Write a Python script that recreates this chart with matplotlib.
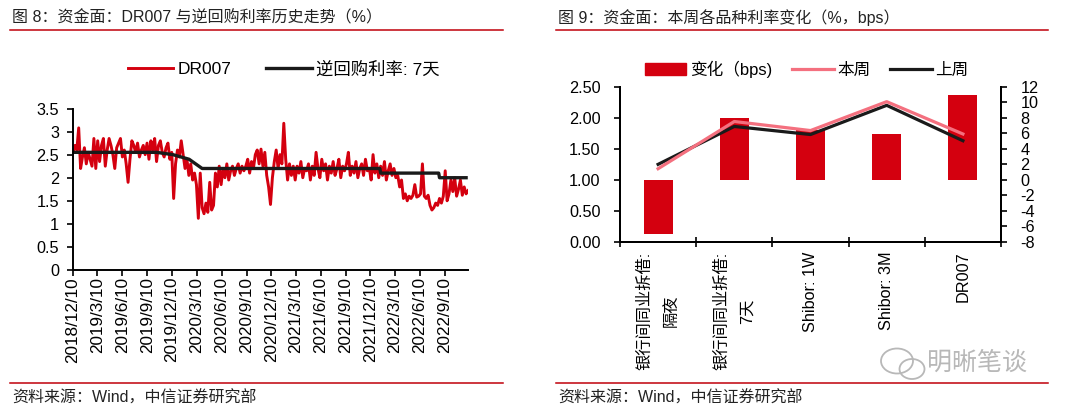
import matplotlib.pyplot as plt
from matplotlib.lines import Line2D
from matplotlib.patches import Patch, Ellipse
import pandas as pd

plt.rcParams['font.family'] = ['Liberation Sans', 'Noto Sans CJK SC']
plt.rcParams['axes.unicode_minus'] = False

# ---- 图8 data: DR007 weekly readings (%), from 2018-12-10 ----
dr007 = [
    2.55, 2.70, 2.60, 3.08, 2.20, 2.45, 2.65, 2.30, 2.55, 2.40, 2.25, 2.85, 2.20,
    2.80, 2.35, 2.70, 2.85, 2.25, 2.60, 2.85, 2.70, 2.50, 2.20, 2.65, 2.75, 2.85,
    2.45, 2.60, 2.30, 1.90, 2.40, 2.80, 2.70, 2.55, 2.75, 2.45, 2.60, 2.70, 2.50,
    2.75, 2.40, 2.80, 2.60, 2.85, 2.35, 2.70, 2.80, 2.55, 2.45, 2.65, 2.75, 2.40,
    2.55, 1.55, 2.30, 2.60, 2.45, 2.80, 2.50, 2.20, 2.40, 2.05, 2.30, 1.95, 2.10,
    1.85, 1.12, 2.10, 1.35, 1.22, 1.45, 1.25, 1.90, 1.30, 1.40, 2.10, 1.80, 2.25,
    1.85, 2.20, 2.00, 2.30, 1.95, 2.15, 2.25, 2.05, 2.20, 2.30, 2.10, 2.25, 2.15,
    2.25, 2.40, 2.10, 2.35, 2.20, 2.50, 2.60, 2.30, 2.62, 2.25, 2.55, 2.05, 1.80,
    1.42, 2.00, 2.35, 2.60, 2.20, 2.50, 2.30, 3.18, 2.40, 1.95, 2.30, 2.05, 2.25,
    1.95, 2.25, 2.10, 2.35, 2.00, 2.20, 2.15, 2.30, 1.95, 2.25, 2.05, 2.55, 2.20,
    2.00, 2.40, 2.15, 2.30, 1.95, 2.25, 2.10, 2.35, 2.05, 2.20, 2.40, 2.00, 2.25,
    2.15, 2.30, 2.55, 2.05, 2.25, 2.10, 2.35, 2.00, 2.20, 2.30, 2.05, 2.40, 2.15,
    2.20, 1.95, 2.50, 2.10, 2.30, 2.00, 2.25, 2.05, 2.35, 1.95, 2.15, 2.30, 2.05,
    2.20, 2.00, 2.05, 1.80, 1.95, 1.55, 1.65, 1.50, 1.60, 1.55, 1.62, 1.85, 1.58,
    1.60, 1.65, 2.30, 1.60, 1.55, 1.62, 1.40, 1.30, 1.35, 1.45, 1.40, 1.55, 1.45,
    1.60, 2.15, 1.50, 1.65, 1.95, 1.70, 2.00, 1.60, 1.75, 1.95, 1.62, 1.80, 1.65, 1.72,
]
dr_dates = pd.date_range('2018-12-10', periods=len(dr007), freq='7D')

repo_dates = ['2018-12-10', '2019-10-14', '2019-12-13', '2020-02-11', '2020-03-30',
              '2022-01-14', '2022-01-17', '2022-08-19', '2022-08-22', '2022-11-28']
repo_vals = [2.55, 2.55, 2.50, 2.40, 2.20, 2.20, 2.10, 2.10, 2.00, 2.00]

date_labels = ['2018/12/10', '2019/3/10', '2019/6/10', '2019/9/10', '2019/12/10',
               '2020/3/10', '2020/6/10', '2020/9/10', '2020/12/10', '2021/3/10',
               '2021/6/10', '2021/9/10', '2021/12/10', '2022/3/10', '2022/6/10',
               '2022/9/10']

# ---- 图9 data ----
cats = ['银行间同业拆借:\n隔夜', '银行间同业拆借:\n7天', 'Shibor: 1W', 'Shibor: 3M', 'DR007']
this_week = [1.180, 1.940, 1.794, 2.259, 1.739]
last_week = [1.250, 1.860, 1.730, 2.200, 1.630]
change_bps = [-7.0, 8.0, 6.4, 5.9, 10.9]

RED = '#D4000F'
PINK = '#F4707F'
BLACK = '#1A1A1A'
W, H = 1080, 411

fig = plt.figure(figsize=(10.8, 4.11), dpi=100)


def fx(px):
    return px / W


def fy(py):
    return 1 - py / H


# titles, rules, footers
for x0, x1, title in [(10, 503, '图 8：资金面：DR007 与逆回购利率历史走势（%）'),
                      (556, 1048, '图 9：资金面：本周各品种利率变化（%，bps）')]:
    fig.text(fx(x0 + 2), fy(18), title, fontsize=11.5, color='#222222', va='center')
    fig.add_artist(Line2D([fx(x0), fx(x1)], [fy(30.5), fy(30.5)], color='#C0000A', lw=1.1))
    fig.add_artist(Line2D([fx(x0), fx(x1)], [fy(383), fy(383)], color='#C0000A', lw=1.1))
    fig.text(fx(x0 + 2), fy(398), '资料来源：Wind，中信证券研究部', fontsize=11.5,
             color='#222222', va='center')

# ---- left chart ----
ax = fig.add_axes([fx(73), fy(270), fx(395), 161.5 / H])
ax.plot(dr_dates, dr007, color=RED, lw=2.1, label='DR007')
ax.plot(pd.to_datetime(repo_dates), repo_vals, color=BLACK, lw=2.4, label='逆回购利率: 7天')
ax.set_ylim(0, 3.5)
ax.set_yticks([0, 0.5, 1, 1.5, 2, 2.5, 3, 3.5])
ax.set_yticklabels(['0', '0.5', '1', '1.5', '2', '2.5', '3', '3.5'])
ax.set_xlim(dr_dates[0], dr_dates[-1])
ax.set_xticks(pd.to_datetime(date_labels, format='%Y/%m/%d'))
ax.set_xticklabels(date_labels, rotation=90, fontsize=12.3)
ax.tick_params(axis='y', direction='out', length=4, width=1.2, labelsize=11.7, pad=6)
ax.tick_params(axis='x', direction='out', length=4, width=1.2, pad=1)
for s in ['top', 'right']:
    ax.spines[s].set_visible(False)
for s in ['left', 'bottom']:
    ax.spines[s].set_linewidth(1.4)
ax.legend(loc='center', bbox_to_anchor=(0.534, 1.244), ncol=2, frameon=False,
          fontsize=12.5, handlelength=2.6, handletextpad=0.25, columnspacing=2.0)

# ---- right chart ----
ax1 = fig.add_axes([fx(620), fy(242), fx(381), 155.3 / H])
ax2 = ax1.twinx()
xs = list(range(len(cats)))
ax2.bar(xs, change_bps, width=0.38, color=RED, zorder=2)
ax1.plot(xs, last_week, color=BLACK, lw=2.3, zorder=3)
ax1.plot(xs, this_week, color=PINK, lw=2.3, zorder=4)
ax1.set_zorder(ax2.get_zorder() + 1)
ax1.patch.set_visible(False)

ax1.set_xlim(-0.5, len(cats) - 0.5)
ax1.set_ylim(0, 2.5)
ax1.set_yticks([0, 0.5, 1.0, 1.5, 2.0, 2.5])
ax1.set_yticklabels(['%.2f' % v for v in [0, 0.5, 1.0, 1.5, 2.0, 2.5]])
ax2.set_ylim(-8, 12)
ax2.set_yticks(range(-8, 13, 2))
ax1.set_xticks([i - 0.5 for i in range(len(cats) + 1)])
ax1.set_xticklabels([])
ax1.set_xticks(xs, minor=True)
ax1.set_xticklabels(cats, minor=True, rotation=90, fontsize=11.7, va='top',
                    ha='center', multialignment='center', linespacing=1.9)
ax1.tick_params(axis='x', which='major', direction='inout', length=7, width=1.2)
ax1.tick_params(axis='x', which='minor', length=0, pad=7)
ax1.tick_params(axis='y', direction='out', length=4, width=1.2, labelsize=11.7, pad=10)
ax2.tick_params(axis='y', direction='out', length=4, width=1.2, labelsize=11.7, pad=10)
for a in (ax1, ax2):
    a.spines['top'].set_visible(False)
    for s in ['left', 'right', 'bottom']:
        a.spines[s].set_linewidth(1.4)

handles = [Patch(color=RED), Line2D([], [], color=PINK, lw=2.3), Line2D([], [], color=BLACK, lw=2.3)]
ax1.legend(handles, ['变化（bps)', '本周', '上周'], loc='center', bbox_to_anchor=(0.49, 1.113),
           ncol=3, frameon=False, fontsize=12, handlelength=2.5, handletextpad=0.2,
           columnspacing=1.2)

# watermark
wm = '#B8B8B8'
fig.add_artist(Ellipse((fx(897), fy(361)), fx(32), 25 / H, fill=False, ec=wm, lw=1.3))
fig.add_artist(Ellipse((fx(912), fy(369)), fx(25), 20 / H, fill=False, ec=wm, lw=1.3,
                       fc='white'))
fig.text(fx(927), fy(363), '明晰笔谈', fontsize=18, color=wm, va='center')

fig.savefig('out.png', dpi=100)
